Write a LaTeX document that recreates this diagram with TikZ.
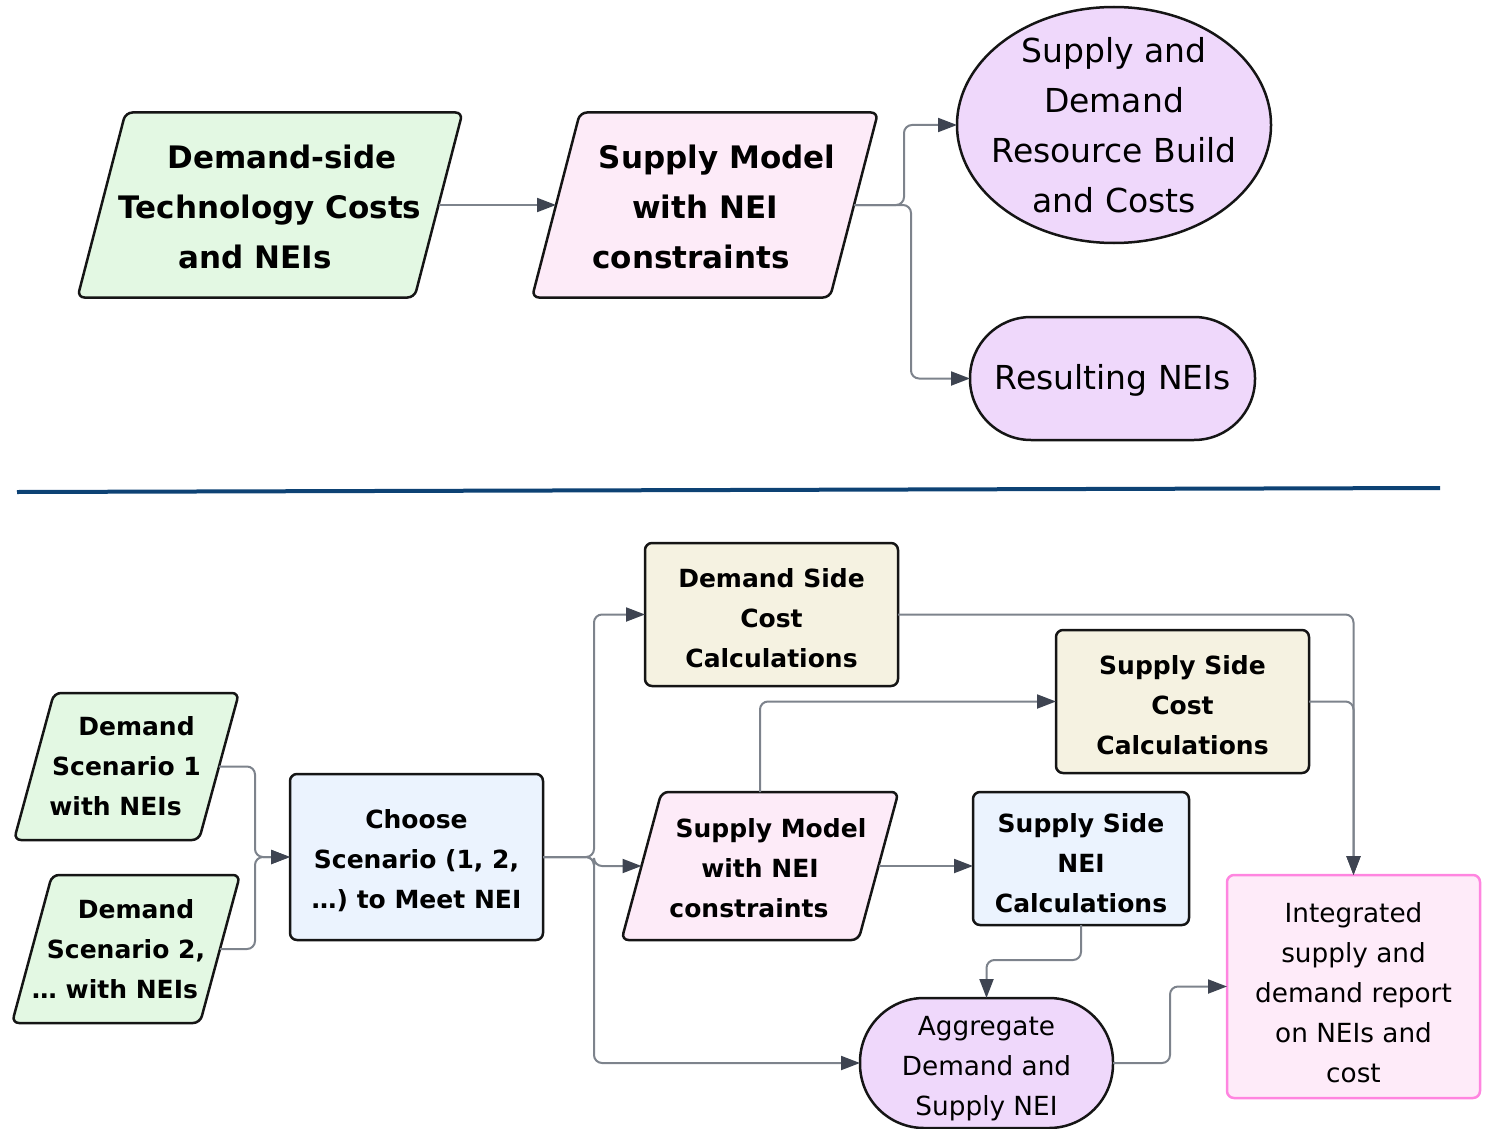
\documentclass[tikz,border=0pt]{standalone}
\usepackage{fontspec}
\setmainfont{DejaVu Sans}
\usetikzlibrary{arrows.meta,shapes.geometric,backgrounds,calc}
\definecolor{greenf}{HTML}{E3F8E3}
\definecolor{pinkf}{HTML}{FDEBF8}
\definecolor{purplef}{HTML}{EFD8FB}
\definecolor{bluef}{HTML}{EBF3FE}
\definecolor{beigef}{HTML}{F5F2E1}
\definecolor{intf}{HTML}{FEEBF9}
\definecolor{intd}{HTML}{FF85E0}
\definecolor{edge}{HTML}{151515}
\definecolor{linec}{HTML}{7D838C}
\definecolor{arrowc}{HTML}{3E4451}
\definecolor{divc}{HTML}{0D4274}
\newcommand\tup[1]{\rule{0pt}{#1}}
\newcommand\parashape[3]{%
  \begin{scope}[on background layer]
    \draw[line width=2.5pt, draw=edge, fill=#3, rounded corners=7pt]
      ([xshift=#2]#1.north) -- ([xshift=#2]#1.north east) -- ([xshift=-#2]#1.south east)
      -- ([xshift=-#2]#1.south west) -- ([xshift=#2]#1.north west) -- cycle;
  \end{scope}}
\begin{document}
\begin{tikzpicture}[x=1pt,y=-1pt,
  bigb/.style={font=\fontsize{31}{50}\selectfont\bfseries, align=center},
  bigr/.style={font=\fontsize{33}{50}\selectfont, align=center},
  smb/.style={font=\fontsize{25}{40}\selectfont\bfseries, align=center},
  smr/.style={font=\fontsize{26.3}{40}\selectfont, align=center},
  para/.style={inner sep=0pt, outer sep=0pt},
  box/.style={draw=edge, line width=2.5pt, rounded corners=7pt, inner sep=0pt, outer sep=0pt},
  round/.style={draw=edge, line width=2.5pt, fill=purplef, inner sep=0pt, outer sep=0pt},
  conn/.style={draw=linec, line width=2pt, rounded corners=8pt,
    -{Triangle[length=19pt,width=14pt,color=arrowc]}},
  divider/.style={draw=divc, line width=4pt}]
\useasboundingbox (0,0) rectangle (1485,1129);

% ---------- top ----------
\node[para, bigb, minimum width=337, minimum height=185] (g1) at (270,205)
  {\tup{28pt}\kern24pt Demand-side\\Technology Costs\\and NEIs\kern30pt};
\parashape{g1}{24pt}{greenf}
\node[para, bigb, minimum width=298, minimum height=185] (p1) at (705,205)
  {\tup{28pt}\kern24pt Supply Model\\with NEI\\constraints\kern28pt};
\parashape{p1}{24pt}{pinkf}
\node[round, ellipse, bigr, inner sep=-60pt, minimum width=314, minimum height=236] (e1) at (1114,125)
  {Supply and\\Demand\\Resource Build\\and Costs};
\node[round, bigr, rounded corners=61pt, minimum width=285, minimum height=123] (r1) at (1112.5,378.5)
  {\tup{28pt}Resulting NEIs};

\draw[conn] (g1.east) -- (p1.west);
\draw[conn] (p1.east) -- ++(50,0) |- (e1.west);
\draw[conn] (p1.east) -- ++(57,0) |- (r1.west);

\draw[divider] (17,492) -- (1440,488);

% ---------- bottom ----------
\node[para, smb, minimum width=185, minimum height=147] (d1) at (126.5,766.5)
  {\kern20pt Demand\\Scenario 1\\with NEIs\kern22pt};
\parashape{d1}{20pt}{greenf}
\node[para, smb, minimum width=184, minimum height=148] (d2) at (126,949)
  {\kern20pt Demand\\Scenario 2,\\\dots\ with NEIs\kern22pt};
\parashape{d2}{20pt}{greenf}
\node[box, fill=bluef, smb, minimum width=253, minimum height=166] (ch) at (416.5,857)
  {\tup{27pt}Choose\\Scenario (1, 2,\\\dots) to Meet NEI};
\node[box, fill=beigef, smb, minimum width=253, minimum height=143] (dsc) at (771.5,614.5)
  {\tup{27pt}Demand Side\\Cost\\Calculations};
\node[box, fill=beigef, smb, minimum width=253, minimum height=143] (ssc) at (1182.5,701.5)
  {\tup{27pt}Supply Side\\Cost\\Calculations};
\node[para, smb, minimum width=237, minimum height=148] (p2) at (760,866)
  {\tup{23pt}\kern22pt Supply Model\\with NEI\\constraints\kern22pt};
\parashape{p2}{20pt}{pinkf}
\node[box, fill=bluef, smb, minimum width=216, minimum height=133] (sn) at (1081,858.5)
  {\tup{28pt}Supply Side\\NEI\\Calculations};
\node[round, smr, rounded corners=64pt, minimum width=253, minimum height=130] (ag) at (986.5,1063)
  {\tup{31pt}Aggregate\\Demand and\\Supply NEI};
\node[draw=intd, line width=2.5pt, fill=intf, rounded corners=7pt, inner sep=0pt, outer sep=0pt,
  smr, minimum width=253, minimum height=223] (in) at (1353.5,986.5)
  {\tup{33pt}Integrated\\supply and\\demand report\\on NEIs and\\cost};

\coordinate (m1) at (255,857);
\coordinate (split) at (594,857);
\coordinate (j2) at (1170,986.5);

\draw[conn] (d1.east) -| (m1) -- (ch.west);
\draw[conn] (d2.east) -| (m1) -- (ch.west);
\draw[conn] (ch.east) -- (split) |- (dsc.west);
\draw[conn] (ch.east) -- (split) |- (p2.west);
\draw[conn] (ch.east) -- (split) |- (ag.west);
\draw[conn] (p2.north) |- (ssc.west);
\draw[conn] (p2.east) -- (p2.east -| sn.west);
\draw[conn] (sn.south) -- ++(0,35) -| (ag.north);
\draw[conn] (ag.east) -| (j2) -- (in.west);
\draw[conn] (ssc.east) -| (in.north);
\draw[conn] (dsc.east) -| (in.north);
\end{tikzpicture}
\end{document}
